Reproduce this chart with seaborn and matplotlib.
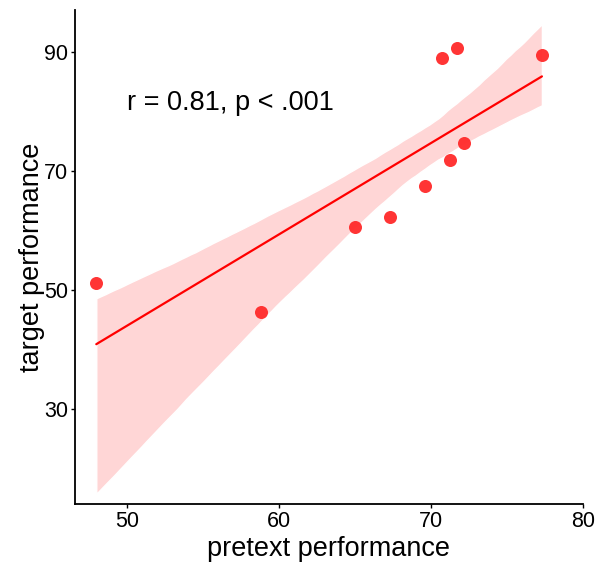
import numpy as np
import pandas as pd
from matplotlib import pyplot as plt
import seaborn as sns

pretext = [48.0, 58.8, 65.0, 67.3, 69.6, 70.7, 71.25, 71.7, 72.2, 77.3]
target = [51.2, 46.3, 60.5, 62.3, 67.4, 89.0, 71.8, 90.7, 74.7, 89.5]
df = pd.DataFrame({'pretext performance': pretext, 'target performance': target})

sns.set_style('white')
plt.rcParams['font.family'] = ['Liberation Sans', 'DejaVu Sans']

fig = plt.figure(figsize=(5.98, 5.63), dpi=100)
ax = fig.add_axes([0.1254, 0.1048, 0.8495, 0.877])

sns.regplot(data=df, x='pretext performance', y='target performance', ax=ax,
            ci=78, n_boot=1000, seed=0,
            scatter_kws={'s': 88, 'color': '#ff2a2a', 'alpha': 0.95, 'linewidths': 0, 'zorder': 3},
            line_kws={'color': 'red', 'lw': 1.6, 'zorder': 2})
for c in ax.collections[1:]:
    c.set_facecolor('#ffd6d6')
    c.set_alpha(1)
    c.set_zorder(0)

ax.text(50, 81.4, 'r = 0.81, p < .001', fontsize=19.5, ha='left', va='center', color='black')

ax.set_xlim(46.6, 80)
ax.set_ylim(14, 97)
ax.set_xticks([50, 60, 70, 80])
ax.set_yticks([30, 50, 70, 90])
ax.tick_params(axis='both', labelsize=15.5, length=3, width=1, direction='out',
               bottom=True, left=True, colors='black', pad=2)
ax.set_xlabel('pretext performance', fontsize=19.5, labelpad=3, color='black')
ax.set_ylabel('target performance', fontsize=19.5, labelpad=-1, color='black')
sns.despine(ax=ax)
for sp in ['left', 'bottom']:
    ax.spines[sp].set_color('black')
    ax.spines[sp].set_linewidth(1.3)

fig.savefig('out.png', dpi=100)
